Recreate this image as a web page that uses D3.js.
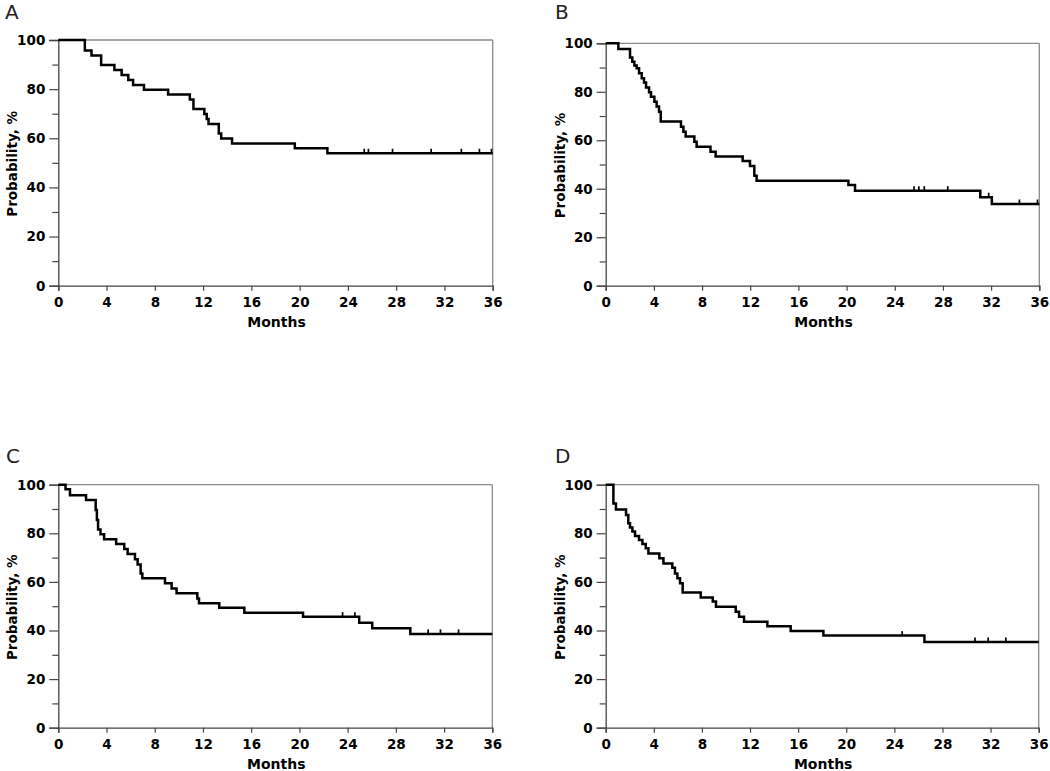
<!DOCTYPE html>
<html>
<head>
<meta charset="utf-8">
<script src="https://cdn.jsdelivr.net/npm/d3@7"></script>
<style>
  body { margin: 0; background: #fff; }
  svg { display: block; }
  text { font-family: "DejaVu Sans", Verdana, sans-serif; }
</style>
</head>
<body>
<svg id="chart" width="1050" height="771"></svg>
<script>
// ---------- data ----------
const panelNames = ["A", "B", "C", "D"];
const xTicks = [0, 4, 8, 12, 16, 20, 24, 28, 32, 36];
const yTicksMajor = [0, 20, 40, 60, 80, 100];
const yTicksMinor = [10, 30, 50, 70, 90];
const xLabel = "Months";
const yLabel = "Probability, %";

// Panel A
const timesA = [0, 2.2, 2.75, 3.55, 4.65, 5.25, 5.8, 6.2, 7.1, 9.1, 10.9, 11.2, 12.1, 12.3, 12.45, 13.3, 13.5, 14.4, 19.6, 22.3];
const survA  = [100, 95.7, 93.7, 89.8, 87.8, 85.8, 83.7, 81.7, 79.8, 77.8, 75.8, 71.9, 69.9, 67.8, 65.8, 61.9, 59.9, 57.9, 55.9, 53.9];
const censorA = [25.35, 25.7, 27.7, 30.9, 33.4, 34.9, 35.9];

// Panel B
const timesB = [0, 1.05, 2.02, 2.21, 2.38, 2.57, 2.77, 2.99, 3.18, 3.35, 3.6, 3.76, 4.04, 4.23, 4.43, 4.57, 6.25, 6.45, 6.64, 7.36, 7.55, 8.7, 9.13, 11.37, 11.98, 12.34, 12.53, 20.15, 20.7, 31.1, 32.06];
const survB  = [100, 97.7, 94.1, 92.4, 90.8, 89.7, 87.6, 85.6, 83.8, 81.8, 79.8, 78.0, 75.9, 73.9, 71.8, 67.7, 65.6, 63.5, 61.5, 59.4, 57.3, 55.3, 53.3, 51.4, 49.4, 45.4, 43.3, 41.5, 39.2, 36.5, 33.7];
const censorB = [25.6, 26.0, 26.45, 28.4, 31.8, 34.35, 35.85];

// Panel C
const timesC = [0, 0.6, 0.97, 2.3, 3.1, 3.2, 3.3, 3.5, 3.8, 4.8, 5.47, 5.75, 6.36, 6.58, 6.83, 6.97, 8.85, 9.4, 9.81, 11.53, 11.67, 13.35, 15.43, 20.3, 24.96, 26.04, 29.2];
const survC  = [100, 98.1, 95.7, 93.7, 89.6, 85.5, 81.6, 79.6, 77.6, 75.6, 73.5, 71.5, 69.3, 67.2, 63.5, 61.5, 59.4, 57.3, 55.3, 53.2, 51.2, 49.4, 47.3, 45.7, 43.2, 40.9, 38.6];
const censorC = [23.58, 24.6, 30.68, 31.7, 33.2];

// Panel D
const timesD = [0, 0.64, 0.85, 1.69, 1.88, 2.02, 2.22, 2.44, 2.77, 3.05, 3.33, 3.55, 4.46, 4.8, 5.54, 5.76, 5.96, 6.18, 6.4, 7.9, 8.9, 9.17, 10.81, 11.09, 11.5, 13.44, 15.38, 18.1, 26.5];
const survD  = [100, 92.3, 89.8, 87.5, 84.1, 82.4, 80.7, 78.9, 77.2, 75.6, 73.8, 71.7, 69.7, 67.6, 65.8, 63.5, 61.5, 59.4, 55.6, 53.6, 51.9, 49.8, 47.7, 45.7, 43.6, 41.8, 39.8, 37.9, 35.3];
const censorD = [24.65, 30.7, 31.8, 33.27];

const maxMonths = 36;

// ---------- layout ----------
const panels = [
  { name: panelNames[0], times: timesA, surv: survA, censor: censorA, x0: 58.3, x1: 492.7, yT: 40.0, yB: 285.7, lx: 5, ly: 18.5 },
  { name: panelNames[1], times: timesB, surv: survB, censor: censorB, x0: 605.7, x1: 1039.3, yT: 43.3, yB: 285.7, lx: 555, ly: 18.5 },
  { name: panelNames[2], times: timesC, surv: survC, censor: censorC, x0: 58.3, x1: 492.3, yT: 484.7, yB: 727.7, lx: 6, ly: 463 },
  { name: panelNames[3], times: timesD, surv: survD, censor: censorD, x0: 605.7, x1: 1038.7, yT: 484.7, yB: 727.7, lx: 555, ly: 463 }
];

const svg = d3.select("#chart");
const FONT = '"DejaVu Sans", Verdana, sans-serif';

panels.forEach(p => {
  const g = svg.append("g");
  const x = d3.scaleLinear().domain([0, maxMonths]).range([p.x0, p.x1]);
  const y = d3.scaleLinear().domain([0, 100]).range([p.yB, p.yT]);

  // panel letter
  g.append("text").attr("x", p.lx).attr("y", p.ly)
    .attr("font-size", 20).attr("fill", "#222").text(p.name);

  // frame (top & right, gray)
  g.append("line").attr("x1", x(0)).attr("x2", x(maxMonths)).attr("y1", y(100)).attr("y2", y(100))
    .attr("stroke", "#8a8a8a").attr("stroke-width", 1.3);
  g.append("line").attr("x1", x(maxMonths)).attr("x2", x(maxMonths)).attr("y1", y(100)).attr("y2", y(0))
    .attr("stroke", "#8a8a8a").attr("stroke-width", 1.3);

  // y axis (major)
  const yAxis = d3.axisLeft(y).tickValues(yTicksMajor).tickSize(9).tickPadding(4).tickFormat(d3.format("d"));
  const ya = g.append("g").attr("transform", `translate(${x(0)},0)`).call(yAxis);
  ya.select(".domain").attr("stroke", "#444").attr("stroke-width", 1.3);
  ya.selectAll(".tick line").attr("stroke", "#444").attr("stroke-width", 1.2);
  ya.selectAll(".tick text").attr("font-family", FONT).attr("font-weight", "bold")
    .attr("font-size", 13.5).attr("fill", "#000");
  // y minor ticks
  const ym = d3.axisLeft(y).tickValues(yTicksMinor).tickSize(6).tickFormat("");
  const yma = g.append("g").attr("transform", `translate(${x(0)},0)`).call(ym);
  yma.select(".domain").remove();
  yma.selectAll(".tick line").attr("stroke", "#444").attr("stroke-width", 1.2);

  // x axis
  const xAxis = d3.axisBottom(x).tickValues(xTicks).tickSize(5).tickPadding(7).tickFormat(d3.format("d"));
  const xa = g.append("g").attr("transform", `translate(0,${y(0)})`).call(xAxis);
  xa.select(".domain").attr("stroke", "#444").attr("stroke-width", 1.3);
  xa.selectAll(".tick line").attr("stroke", "#444").attr("stroke-width", 1.2);
  xa.selectAll(".tick text").attr("font-family", FONT).attr("font-weight", "bold")
    .attr("font-size", 13.5).attr("fill", "#000");

  // axis titles
  g.append("text").attr("x", (p.x0 + p.x1) / 2 + 1).attr("y", p.yB + 41)
    .attr("text-anchor", "middle").attr("font-weight", "bold").attr("font-size", 14)
    .attr("fill", "#000").text(xLabel);
  g.append("text")
    .attr("transform", `translate(${p.x0 - 41},${(p.yT + p.yB) / 2 + 1}) rotate(-90)`)
    .attr("text-anchor", "middle").attr("font-weight", "bold").attr("font-size", 13.5)
    .attr("fill", "#000").text(yLabel);

  // KM step curve
  const pts = p.times.map((t, i) => [t, p.surv[i]]);
  pts.push([maxMonths, p.surv[p.surv.length - 1]]);
  const line = d3.line().x(d => x(d[0])).y(d => y(d[1])).curve(d3.curveStepAfter);
  g.append("path").datum(pts).attr("d", line)
    .attr("fill", "none").attr("stroke", "#000").attr("stroke-width", 2.5)
    .attr("stroke-linejoin", "miter");

  // censor marks
  const survAt = t => {
    const i = d3.bisectRight(p.times, t) - 1;
    return p.surv[Math.max(0, i)];
  };
  g.selectAll(".cens").data(p.censor).enter().append("line")
    .attr("x1", d => x(d)).attr("x2", d => x(d))
    .attr("y1", d => y(survAt(d))).attr("y2", d => y(survAt(d)) - 4.5)
    .attr("stroke", "#000").attr("stroke-width", 1.7);
});
</script>
</body>
</html>
